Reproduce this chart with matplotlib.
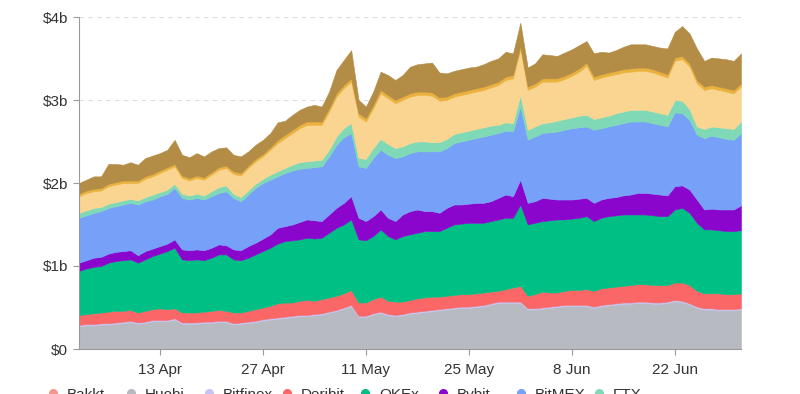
import matplotlib
matplotlib.use("Agg")
import matplotlib.pyplot as plt
import matplotlib.dates as mdates
from matplotlib.ticker import FuncFormatter
import pandas as pd

# daily open interest, $ billions, 2 Apr - 1 Jul
start_date = "2020-04-02"
n_days = 91

exchanges = ["Bakkt", "Huobi", "Bitfinex", "Deribit", "OKEx", "Bybit",
             "BitMEX", "FTX", "Binance", "Kraken", "CME"]
colors = ["#f4978e", "#b7bac1", "#c5c4f2", "#fb6767", "#00bf84", "#8a06cd",
          "#77a0f8", "#7fd9b6", "#fad592", "#eab23c", "#b38c45"]

bakkt = [0.004, 0.004, 0.004, 0.004, 0.004, 0.004, 0.004, 0.004, 0.004, 0.004,
         0.004, 0.004, 0.004, 0.004, 0.004, 0.004, 0.004, 0.004, 0.004, 0.004,
         0.004, 0.004, 0.004, 0.004, 0.004, 0.004, 0.004, 0.004, 0.004, 0.004,
         0.005, 0.005, 0.005, 0.005, 0.005, 0.005, 0.005, 0.005, 0.005, 0.005,
         0.005, 0.005, 0.005, 0.005, 0.005, 0.005, 0.005, 0.005, 0.005, 0.005,
         0.005, 0.005, 0.005, 0.005, 0.005, 0.005, 0.005, 0.005, 0.005, 0.005,
         0.005, 0.005, 0.005, 0.005, 0.005, 0.005, 0.005, 0.005, 0.005, 0.005,
         0.005, 0.005, 0.005, 0.005, 0.005, 0.005, 0.005, 0.005, 0.005, 0.005,
         0.005, 0.005, 0.005, 0.005, 0.005, 0.005, 0.005, 0.005, 0.005, 0.005,
         0.005]
huobi = [0.27, 0.28, 0.28, 0.29, 0.29, 0.30, 0.31, 0.32, 0.30, 0.31,
         0.33, 0.33, 0.33, 0.35, 0.30, 0.30, 0.30, 0.31, 0.31, 0.32,
         0.32, 0.29, 0.30, 0.31, 0.32, 0.34, 0.35, 0.36, 0.37, 0.38,
         0.39, 0.39, 0.40, 0.41, 0.43, 0.45, 0.48, 0.51, 0.38, 0.38,
         0.41, 0.43, 0.40, 0.39, 0.40, 0.42, 0.43, 0.44, 0.45, 0.46,
         0.47, 0.48, 0.49, 0.49, 0.50, 0.51, 0.53, 0.55, 0.55, 0.55,
         0.55, 0.47, 0.47, 0.48, 0.49, 0.50, 0.51, 0.51, 0.51, 0.51,
         0.49, 0.51, 0.52, 0.53, 0.54, 0.54, 0.55, 0.55, 0.54, 0.54,
         0.55, 0.57, 0.56, 0.53, 0.49, 0.47, 0.47, 0.46, 0.46, 0.46,
         0.47]
bitfinex = [0.016, 0.016, 0.016, 0.016, 0.016, 0.016, 0.016, 0.016, 0.016, 0.016,
            0.016, 0.016, 0.016, 0.016, 0.016, 0.016, 0.016, 0.016, 0.016, 0.016,
            0.016, 0.016, 0.016, 0.016, 0.016, 0.016, 0.016, 0.016, 0.016, 0.016,
            0.016, 0.016, 0.016, 0.016, 0.016, 0.016, 0.016, 0.016, 0.016, 0.016,
            0.016, 0.016, 0.016, 0.016, 0.016, 0.016, 0.016, 0.016, 0.016, 0.016,
            0.016, 0.016, 0.016, 0.016, 0.016, 0.016, 0.016, 0.016, 0.016, 0.016,
            0.016, 0.016, 0.016, 0.016, 0.016, 0.016, 0.016, 0.016, 0.016, 0.016,
            0.016, 0.016, 0.016, 0.016, 0.016, 0.016, 0.016, 0.016, 0.016, 0.016,
            0.016, 0.016, 0.016, 0.016, 0.016, 0.016, 0.016, 0.016, 0.016, 0.016,
            0.016]
deribit = [0.12, 0.12, 0.13, 0.13, 0.14, 0.14, 0.13, 0.13, 0.12, 0.13,
           0.13, 0.14, 0.13, 0.12, 0.12, 0.12, 0.12, 0.12, 0.13, 0.13,
           0.12, 0.13, 0.12, 0.13, 0.14, 0.14, 0.15, 0.17, 0.17, 0.16,
           0.17, 0.18, 0.16, 0.17, 0.17, 0.17, 0.17, 0.18, 0.16, 0.16,
           0.17, 0.18, 0.16, 0.16, 0.15, 0.15, 0.16, 0.16, 0.16, 0.15,
           0.15, 0.15, 0.15, 0.15, 0.15, 0.15, 0.14, 0.13, 0.15, 0.17,
           0.19, 0.15, 0.17, 0.19, 0.17, 0.16, 0.17, 0.18, 0.18, 0.19,
           0.19, 0.20, 0.20, 0.20, 0.20, 0.21, 0.21, 0.21, 0.21, 0.21,
           0.20, 0.21, 0.22, 0.22, 0.19, 0.18, 0.18, 0.19, 0.18, 0.18,
           0.18]
okex = [0.53, 0.55, 0.56, 0.56, 0.59, 0.60, 0.61, 0.61, 0.60, 0.62,
        0.64, 0.66, 0.70, 0.73, 0.64, 0.63, 0.64, 0.62, 0.64, 0.67,
        0.68, 0.64, 0.63, 0.64, 0.66, 0.68, 0.70, 0.72, 0.74, 0.75,
        0.74, 0.75, 0.75, 0.74, 0.78, 0.82, 0.83, 0.85, 0.76, 0.75,
        0.76, 0.81, 0.78, 0.75, 0.79, 0.79, 0.79, 0.80, 0.79, 0.79,
        0.82, 0.85, 0.85, 0.86, 0.85, 0.84, 0.85, 0.86, 0.86, 0.84,
        0.98, 0.86, 0.86, 0.85, 0.87, 0.88, 0.86, 0.86, 0.87, 0.88,
        0.84, 0.85, 0.86, 0.86, 0.86, 0.85, 0.84, 0.84, 0.84, 0.83,
        0.83, 0.88, 0.90, 0.87, 0.82, 0.77, 0.77, 0.76, 0.76, 0.76,
        0.76]
bybit = [0.10, 0.10, 0.11, 0.11, 0.11, 0.11, 0.11, 0.11, 0.09, 0.10,
         0.09, 0.09, 0.09, 0.10, 0.12, 0.12, 0.12, 0.12, 0.12, 0.12,
         0.11, 0.12, 0.12, 0.14, 0.14, 0.15, 0.16, 0.19, 0.18, 0.19,
         0.21, 0.22, 0.22, 0.20, 0.22, 0.24, 0.26, 0.28, 0.26, 0.23,
         0.24, 0.24, 0.22, 0.22, 0.26, 0.28, 0.28, 0.24, 0.24, 0.22,
         0.24, 0.24, 0.23, 0.23, 0.24, 0.24, 0.24, 0.26, 0.28, 0.26,
         0.30, 0.26, 0.26, 0.28, 0.26, 0.24, 0.24, 0.23, 0.23, 0.22,
         0.22, 0.22, 0.22, 0.22, 0.23, 0.24, 0.26, 0.26, 0.26, 0.26,
         0.25, 0.28, 0.27, 0.28, 0.28, 0.24, 0.25, 0.25, 0.26, 0.26,
         0.30]
bitmex = [0.54, 0.54, 0.54, 0.55, 0.55, 0.55, 0.56, 0.57, 0.61, 0.60,
          0.59, 0.60, 0.60, 0.62, 0.62, 0.61, 0.62, 0.61, 0.62, 0.62,
          0.65, 0.62, 0.59, 0.62, 0.66, 0.67, 0.66, 0.62, 0.64, 0.65,
          0.64, 0.62, 0.64, 0.66, 0.70, 0.76, 0.79, 0.76, 0.62, 0.64,
          0.70, 0.72, 0.76, 0.76, 0.70, 0.70, 0.70, 0.72, 0.72, 0.74,
          0.72, 0.74, 0.76, 0.77, 0.78, 0.80, 0.80, 0.78, 0.77, 0.78,
          0.88, 0.76, 0.78, 0.78, 0.80, 0.82, 0.84, 0.86, 0.86, 0.86,
          0.88, 0.86, 0.86, 0.87, 0.87, 0.88, 0.86, 0.86, 0.85, 0.84,
          0.83, 0.89, 0.87, 0.84, 0.78, 0.86, 0.88, 0.87, 0.85, 0.84,
          0.87]
ftx = [0.06, 0.06, 0.06, 0.05, 0.05, 0.05, 0.05, 0.05, 0.05, 0.05,
       0.06, 0.05, 0.05, 0.05, 0.05, 0.05, 0.05, 0.05, 0.06, 0.07,
       0.07, 0.05, 0.05, 0.05, 0.05, 0.05, 0.06, 0.06, 0.06, 0.07,
       0.08, 0.08, 0.08, 0.08, 0.08, 0.10, 0.11, 0.12, 0.10, 0.11,
       0.12, 0.13, 0.13, 0.12, 0.12, 0.12, 0.12, 0.12, 0.11, 0.11,
       0.11, 0.11, 0.11, 0.11, 0.11, 0.11, 0.11, 0.10, 0.10, 0.10,
       0.14, 0.12, 0.12, 0.12, 0.12, 0.13, 0.13, 0.13, 0.14, 0.14,
       0.13, 0.13, 0.13, 0.14, 0.14, 0.14, 0.14, 0.14, 0.14, 0.14,
       0.14, 0.15, 0.15, 0.13, 0.10, 0.11, 0.11, 0.12, 0.13, 0.13,
       0.14]
binance = [0.20, 0.21, 0.20, 0.20, 0.21, 0.21, 0.21, 0.19, 0.21, 0.22,
           0.22, 0.23, 0.24, 0.21, 0.19, 0.18, 0.19, 0.19, 0.20, 0.21,
           0.21, 0.24, 0.26, 0.27, 0.27, 0.27, 0.30, 0.34, 0.36, 0.38,
           0.41, 0.44, 0.43, 0.42, 0.46, 0.48, 0.48, 0.50, 0.50, 0.45,
           0.48, 0.55, 0.55, 0.54, 0.56, 0.56, 0.56, 0.56, 0.56, 0.50,
           0.47, 0.45, 0.45, 0.45, 0.45, 0.45, 0.46, 0.48, 0.51, 0.54,
           0.55, 0.48, 0.48, 0.50, 0.49, 0.47, 0.48, 0.50, 0.53, 0.59,
           0.47, 0.48, 0.48, 0.47, 0.47, 0.46, 0.47, 0.47, 0.47, 0.46,
           0.45, 0.47, 0.50, 0.51, 0.52, 0.47, 0.46, 0.45, 0.44, 0.43,
           0.42]
kraken = [0.03, 0.03, 0.03, 0.03, 0.03, 0.03, 0.03, 0.03, 0.03, 0.03,
          0.03, 0.03, 0.03, 0.03, 0.03, 0.03, 0.03, 0.03, 0.03, 0.03,
          0.03, 0.03, 0.03, 0.03, 0.03, 0.03, 0.03, 0.04, 0.04, 0.04,
          0.04, 0.04, 0.04, 0.04, 0.04, 0.04, 0.04, 0.04, 0.04, 0.04,
          0.04, 0.04, 0.04, 0.04, 0.04, 0.04, 0.04, 0.04, 0.04, 0.04,
          0.04, 0.04, 0.04, 0.04, 0.04, 0.04, 0.04, 0.04, 0.04, 0.04,
          0.04, 0.04, 0.04, 0.04, 0.04, 0.04, 0.04, 0.04, 0.04, 0.04,
          0.04, 0.04, 0.04, 0.04, 0.04, 0.04, 0.04, 0.04, 0.04, 0.04,
          0.04, 0.04, 0.04, 0.04, 0.04, 0.04, 0.04, 0.04, 0.04, 0.04,
          0.04]
cme = [0.13, 0.13, 0.15, 0.14, 0.24, 0.22, 0.19, 0.22, 0.19, 0.22,
       0.22, 0.21, 0.21, 0.29, 0.25, 0.25, 0.27, 0.25, 0.25, 0.23,
       0.22, 0.20, 0.20, 0.17, 0.17, 0.17, 0.17, 0.21, 0.17, 0.18,
       0.18, 0.18, 0.20, 0.18, 0.20, 0.28, 0.30, 0.34, 0.16, 0.14,
       0.16, 0.22, 0.24, 0.24, 0.26, 0.32, 0.33, 0.34, 0.36, 0.30,
       0.28, 0.27, 0.27, 0.27, 0.26, 0.27, 0.28, 0.28, 0.30, 0.26,
       0.28, 0.23, 0.24, 0.29, 0.28, 0.27, 0.28, 0.28, 0.28, 0.26,
       0.28, 0.27, 0.24, 0.25, 0.27, 0.29, 0.28, 0.28, 0.28, 0.29,
       0.31, 0.31, 0.36, 0.36, 0.38, 0.31, 0.33, 0.34, 0.35, 0.35,
       0.36]

series = [bakkt, huobi, bitfinex, deribit, okex, bybit, bitmex, ftx,
          binance, kraken, cme]
tick_dates = ["2020-04-13", "2020-04-27", "2020-05-11", "2020-05-25",
              "2020-06-08", "2020-06-22"]
y_ticks = [0, 1, 2, 3, 4]

plt.rcParams["font.family"] = ["Liberation Sans", "DejaVu Sans"]

dates = pd.date_range(start_date, periods=n_days, freq="D")

fig = plt.figure(figsize=(8, 3.94), dpi=100)
W, H = 800, 394
ax = fig.add_axes([79 / W, 1 - 349 / H, (741 - 79) / W, (349 - 17) / H])

polys = ax.stackplot(dates, *series, colors=colors, labels=exchanges,
                     linewidth=0, zorder=2)
for p, c in zip(polys, colors):
    p.set_edgecolor(c)
    p.set_linewidth(0.4)

ax.set_xlim(dates[0], dates[-1])
ax.set_ylim(0, 4)
ax.set_yticks(y_ticks)
ax.yaxis.set_major_formatter(FuncFormatter(lambda v, _: "$0" if v == 0 else f"${int(v)}b"))
ax.set_xticks(pd.to_datetime(tick_dates))
ax.xaxis.set_major_formatter(FuncFormatter(
    lambda v, _: f"{mdates.num2date(v).day} {mdates.num2date(v).strftime('%b')}"))

ax.yaxis.grid(True, linestyle=(0, (4, 4)), color="#dcdcdc", linewidth=0.8, zorder=0)
ax.set_axisbelow(True)
for s in ["top", "right"]:
    ax.spines[s].set_visible(False)
for s in ["left", "bottom"]:
    ax.spines[s].set_color("#9a9a9a")
    ax.spines[s].set_linewidth(0.8)
    ax.spines[s].set_zorder(3)
ax.tick_params(axis="both", colors="#9a9a9a", labelcolor="#333333",
               labelsize=11, length=4, width=0.8)
ax.tick_params(axis="x", pad=6)
ax.tick_params(axis="y", pad=4)

# legend, fixed-width items along the bottom edge (second row falls off the canvas)
item_w = 78
for k, (name, c) in enumerate(zip(exchanges, colors)):
    row, col = divmod(k, 8)
    x0 = 53 + item_w * col
    y0 = 393 + 22 * row
    fig.lines.append(plt.Line2D([x0 / W], [1 - y0 / H], marker="o", markersize=5.5,
                                color=c, linestyle="none", transform=fig.transFigure))
    fig.text((x0 + 14) / W, 1 - 388 / H - row * 22 / H, name, fontsize=11,
             color="#333333", va="top", ha="left")

fig.savefig("out.png", dpi=100)
